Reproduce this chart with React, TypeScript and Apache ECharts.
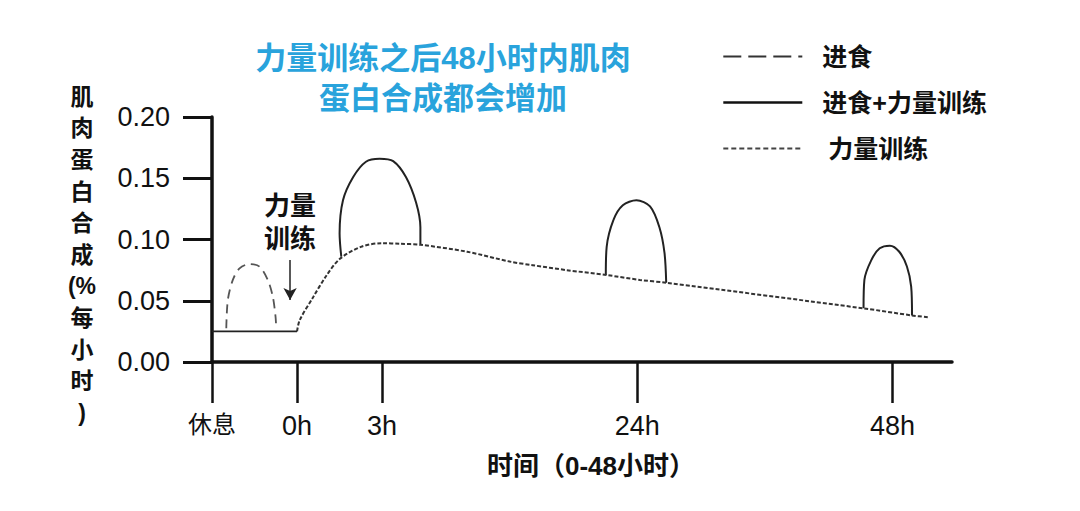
import React, { useEffect, useRef } from 'react';
import * as echarts from 'echarts';

// x units: 休息 = 0, 0h = 1, 3h = 2, 24h = 5, 48h = 8
const tickPositions = [0, 1, 2, 5, 8];
const tickLabels = ['休息', '0h', '3h', '24h', '48h'];

const baselineData = [
  [0, 0.025],
  [1, 0.025]
];

const mealData = [
  [0.168, 0.0275], [0.186, 0.0506], [0.245, 0.067], [0.324, 0.0765], [0.441, 0.08],
  [0.559, 0.0778], [0.656, 0.067], [0.715, 0.0533], [0.747, 0.037], [0.755, 0.0275]
];

const trainingData = [
  [1, 0.025], [1.03, 0.034], [1.19, 0.053], [1.34, 0.07], [1.5, 0.084], [1.75, 0.094],
  [2, 0.097], [2.21, 0.0965], [2.45, 0.0957], [3.0, 0.09], [3.5, 0.082], [3.77, 0.079],
  [4.17, 0.075], [4.64, 0.071], [5.03, 0.067], [5.34, 0.0647], [7.66, 0.0438],
  [8.23, 0.038], [8.42, 0.0365]
];

const arc3h = [
  [1.52, 0.086], [1.5, 0.105], [1.54, 0.132], [1.66, 0.151], [1.81, 0.1635], [1.97, 0.166],
  [2.13, 0.164], [2.28, 0.151], [2.4, 0.13], [2.45, 0.11], [2.45, 0.0963]
];
const arc24h = [
  [4.63, 0.071], [4.64, 0.094], [4.72, 0.116], [4.83, 0.128], [4.99, 0.132],
  [5.15, 0.127], [5.26, 0.11], [5.32, 0.089], [5.34, 0.0647]
];
const arc48h = [
  [7.66, 0.0438], [7.67, 0.067], [7.75, 0.083], [7.85, 0.0928], [7.97, 0.095],
  [8.08, 0.09], [8.17, 0.078], [8.22, 0.0615], [8.23, 0.038]
];

const arrowFrom = [0.918, 0.0833];
const arrowTo = [0.918, 0.0506];

const FONT = "'Liberation Sans', 'Noto Sans CJK SC', sans-serif";

const App: React.FC = () => {
  const chartRef = useRef<HTMLDivElement>(null);

  useEffect(() => {
    if (!chartRef.current) return;
    document.body.style.margin = '0';
    const chart = echarts.init(chartRef.current, null, { renderer: 'svg' });

    const comboData: any[] = [...arc3h, '-', ...arc24h, '-', ...arc48h];

    const option: any = {
      animation: false,
      backgroundColor: '#ffffff',
      color: ['#222', '#555', '#222', '#333'],
      textStyle: { fontFamily: FONT },
      grid: { left: 212, right: 128, top: 117, bottom: 149 },
      legend: {
        orient: 'vertical',
        left: 717,
        top: 39,
        itemWidth: 79,
        itemHeight: 25,
        itemGap: 21,
        selectedMode: false,
        itemStyle: { opacity: 0 },
        textStyle: {
          fontSize: 25,
          fontWeight: 'bold',
          color: '#111',
          fontFamily: FONT,
          padding: [0, 0, 0, 15]
        },
        data: [
          { name: '进食', lineStyle: { type: [18, 7], width: 2.2, color: '#333' } },
          { name: '进食+力量训练', lineStyle: { type: 'solid', width: 2.6, color: '#111' } },
          { name: '力量训练', lineStyle: { type: [5, 3], width: 2, color: '#444' }, textStyle: { padding: [0, 0, 0, 21] } }
        ]
      },
      xAxis: {
        type: 'value',
        min: 0,
        max: 8.7,
        splitLine: { show: false },
        axisLine: { show: true, lineStyle: { color: '#111', width: 3.5 } },
        axisTick: {
          show: true,
          length: 41,
          customValues: tickPositions,
          lineStyle: { color: '#111', width: 2.5 }
        },
        axisLabel: {
          customValues: tickPositions,
          margin: 50,
          color: '#111',
          fontFamily: FONT,
          formatter: (v: number) => {
            const i = tickPositions.indexOf(v);
            if (i < 0) return '';
            return i === 0 ? '{cjk|' + tickLabels[i] + '}' : '{num|' + tickLabels[i] + '}';
          },
          rich: {
            cjk: { fontSize: 24, color: '#111', fontFamily: FONT },
            num: { fontSize: 27, color: '#111', fontFamily: FONT }
          }
        },
        name: '时间（0-48小时）',
        nameLocation: 'middle',
        nameGap: 91,
        nameTextStyle: { fontSize: 26, fontWeight: 'bold', color: '#111', fontFamily: FONT, padding: [0, 0, 0, 18] }
      },
      yAxis: {
        type: 'value',
        min: 0,
        max: 0.2,
        interval: 0.05,
        splitLine: { show: false },
        axisLine: { show: true, lineStyle: { color: '#111', width: 3.5 } },
        axisTick: { show: true, length: 29, lineStyle: { color: '#111', width: 3 } },
        axisLabel: {
          margin: 42,
          fontSize: 27,
          color: '#111',
          fontFamily: FONT,
          formatter: (v: number) => v.toFixed(2)
        }
      },
      graphic: [
        {
          type: 'text',
          x: 443,
          y: 38,
          style: {
            text: '力量训练之后48小时内肌肉\n蛋白合成都会增加',
            fill: '#29a3dc',
            fontSize: 31,
            fontWeight: 'bold',
            fontFamily: FONT,
            lineHeight: 40,
            align: 'center',
            verticalAlign: 'top'
          }
        },
        {
          type: 'text',
          x: 82,
          y: 81,
          style: {
            text: '肌\n肉\n蛋\n白\n合\n成\n(%\n每\n小\n时\n)',
            fill: '#111',
            fontSize: 23,
            fontWeight: 'bold',
            fontFamily: FONT,
            lineHeight: 31.6,
            align: 'center',
            verticalAlign: 'top'
          }
        }
      ],
      series: [
        {
          name: '基线',
          type: 'line',
          data: baselineData,
          symbol: 'none',
          lineStyle: { color: '#222', width: 1.6 }
        },
        {
          name: '进食',
          type: 'line',
          data: mealData,
          smooth: 0.3,
          symbol: 'none',
          lineStyle: { color: '#555', width: 1.8, type: [9, 6] }
        },
        {
          name: '进食+力量训练',
          type: 'line',
          data: comboData,
          smooth: 0.3,
          connectNulls: false,
          symbol: 'none',
          lineStyle: { color: '#222', width: 2 }
        },
        {
          name: '力量训练',
          type: 'line',
          data: trainingData,
          smooth: 0.3,
          symbol: 'none',
          lineStyle: { color: '#333', width: 2, type: [4, 2] },
          markLine: {
            silent: true,
            symbol: ['none', 'arrow'],
            symbolSize: [10, 12],
            lineStyle: { color: '#222', width: 1.5, type: 'solid' },
            label: {
              show: true,
              position: 'start',
              distance: 4,
              formatter: '力量\n训练',
              fontSize: 26,
              fontWeight: 'bold',
              color: '#111',
              fontFamily: FONT,
              lineHeight: 33
            },
            data: [[{ coord: arrowFrom }, { coord: arrowTo }]]
          }
        }
      ]
    };

    chart.setOption(option);

    return () => {
      chart.dispose();
    };
  }, []);

  return <div ref={chartRef} style={{ width: 1080, height: 511 }} />;
};

export default App;
